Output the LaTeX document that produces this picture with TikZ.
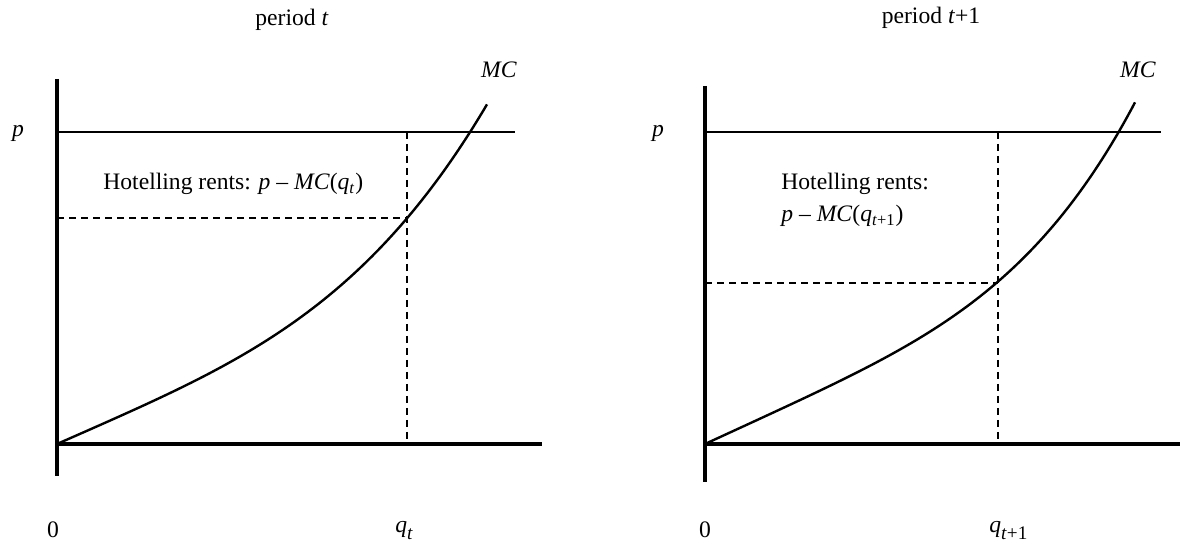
\documentclass[tikz,border=0pt]{standalone}
\usepackage{fontspec}
\setmainfont{Liberation Serif}
\newcommand{\axsub}[1]{\raisebox{-3.2pt}{\fontsize{9.6}{10}\selectfont #1}}
\begin{document}
\begin{tikzpicture}[x=0.5pt,y=-0.5pt,
  axis/.style={line width=2.2pt},
  thinline/.style={line width=1.2pt},
  guide/.style={line width=1.15pt,dash pattern=on 3.6pt off 2.4pt},
  curve/.style={line width=1.2pt},
  lbl/.style={inner sep=0pt,font=\fontsize{11.8}{14}\selectfont}]
\useasboundingbox (0,0) rectangle (1180,544);
% ---------- left panel ----------
\coordinate (LvT) at (57,79);
\coordinate (LvB) at (57,476);
\coordinate (LO) at (57,444);
\coordinate (LhE) at (542,444);
\coordinate (LpS) at (57,132);
\coordinate (LpE) at (515,132);
\coordinate (LdT) at (407,132);
\coordinate (LdB) at (407,441);
\coordinate (LdL) at (57,218);
\coordinate (LdR) at (407,218);
\draw[axis] (LvT) -- (LvB);
\draw[axis] (LO) -- (LhE);
\draw[thinline] (LpS) -- (LpE);
\draw[guide] (LdT) -- (LdB);
\draw[guide] (LdL) -- (LdR);
\draw[curve] (LO) -- plot[domain=1:430,samples=120] ({57+\x},{444-(0.44*\x+150.5*pow(\x/430,3.6))});
\node[lbl] (ltitle) at (292,20) {period \textit{t}};
\node[lbl] (lmc) at (499,70) {\textit{MC}};
\node[lbl] (lp) at (18,133) {\textit{p}};
\node[lbl,anchor=west] (lrent) at (103,184) {Hotelling rents: \textit{p} – \textit{MC}(\textit{q}\textsubscript{\textit{t}})};
\node[lbl] (lzero) at (53,530) {0};
\node[lbl,anchor=base west] (lq) at (395,533) {\textit{q}\axsub{\textit{t}}};
% ---------- right panel ----------
\coordinate (RvT) at (705,86);
\coordinate (RvB) at (705,482);
\coordinate (RO) at (705,444);
\coordinate (RhE) at (1180,444);
\coordinate (RpS) at (705,132);
\coordinate (RpE) at (1161,132);
\coordinate (RdT) at (998,132);
\coordinate (RdB) at (998,441);
\coordinate (RdL) at (705,283);
\coordinate (RdR) at (998,283);
\draw[axis] (RvT) -- (RvB);
\draw[axis] (RO) -- (RhE);
\draw[thinline] (RpS) -- (RpE);
\draw[guide] (RdT) -- (RdB);
\draw[guide] (RdL) -- (RdR);
\draw[curve] (RO) -- plot[domain=1:430,samples=120] ({705+\x},{444-(0.46*\x+141*pow(\x/428,4.3))});
\node[lbl] (rtitle) at (931,18) {period \textit{t}+1};
\node[lbl] (rmc) at (1138,70) {\textit{MC}};
\node[lbl] (rp) at (658,133) {\textit{p}};
\node[lbl,anchor=west] (rrent1) at (781,184) {Hotelling rents:};
\node[lbl,anchor=west] (rrent2) at (781,216) {\textit{p} – \textit{MC}(\textit{q}\textsubscript{\textit{t}+1})};
\node[lbl] (rzero) at (705,530) {0};
\node[lbl,anchor=base west] (rq) at (989,533) {\textit{q}\axsub{\textit{t}+1}};
\end{tikzpicture}
\end{document}
